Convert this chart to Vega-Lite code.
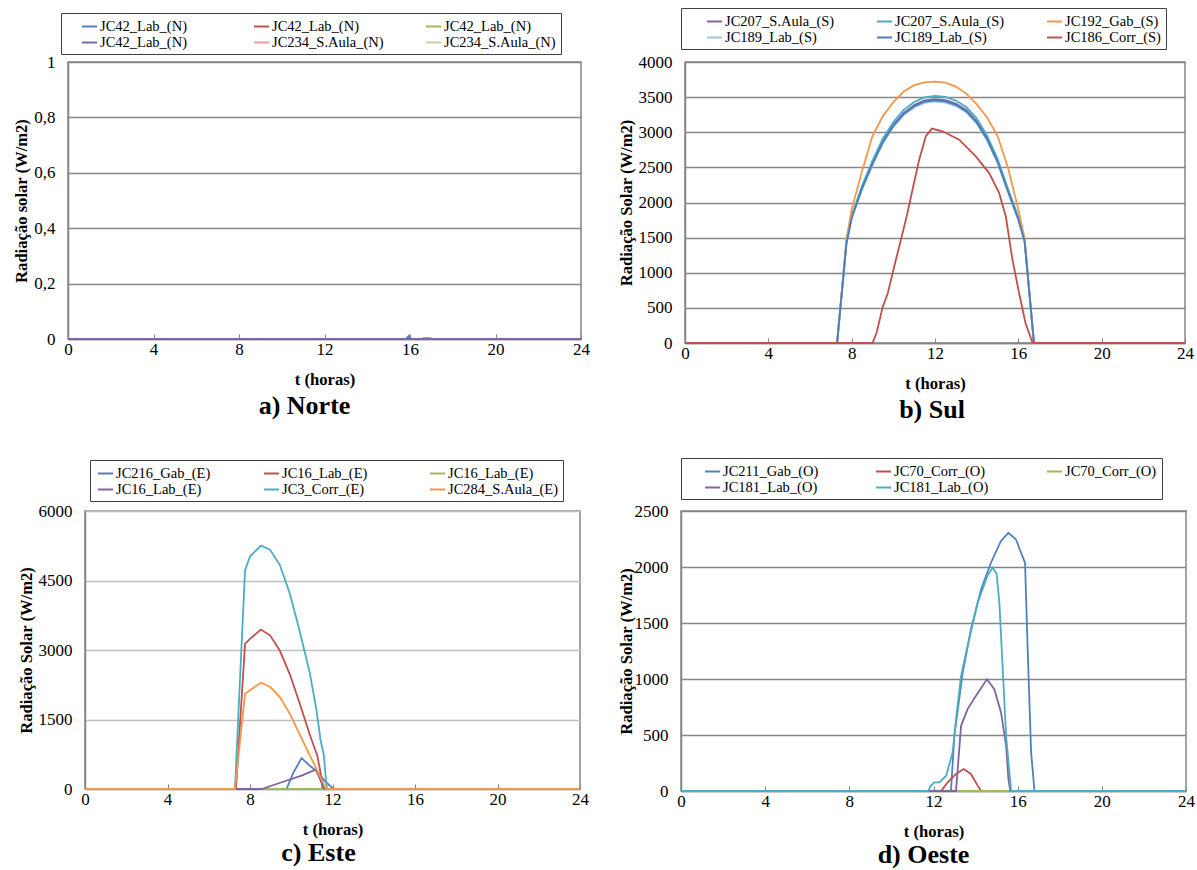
{
"$schema": "https://vega.github.io/schema/vega-lite/v6.json",
"background": "white",
"padding": {"left": 0, "top": 6, "right": 0, "bottom": 0},
"config": {
  "font": "Liberation Serif",
  "view": {"stroke": "#868686", "strokeWidth": 1.5},
  "axis": {"labelFont": "Liberation Serif", "titleFont": "Liberation Serif", "labelFontSize": 17, "titleFontSize": 16.6, "titleFontWeight": "bold", "labelColor": "#000", "titleColor": "#000", "domainColor": "#868686", "domainWidth": 1.5, "tickColor": "#868686", "gridColor": "#868686", "gridWidth": 1.3},
  "axisX": {"grid": false, "tickSize": -5, "labelPadding": 7, "titlePadding": 14, "labelFlush": false},
  "axisY": {"ticks": false, "tickSize": 0, "labelPadding": 13, "titlePadding": 4, "grid": true},
  "legend": {"orient": "none", "direction": "horizontal", "columns": 3, "labelFont": "Liberation Serif", "labelFontSize": 14.5, "labelColor": "#000", "symbolType": "stroke", "symbolSize": 225, "symbolStrokeWidth": 2, "labelOffset": 2, "strokeColor": "#404040", "padding": 5, "rowPadding": 1, "gridAlign": "all"},
  "title": {"font": "Liberation Serif", "fontSize": 26, "fontWeight": "bold", "orient": "bottom", "anchor": "middle", "color": "#000", "offset": 5, "frame": "group"}
},
"datasets": {
  "none": [],
  "na": [
    {"s": "JC42_Lab_(N)#1", "t": 0, "v": 0}, {"s": "JC42_Lab_(N)#1", "t": 15.8, "v": 0}, {"s": "JC42_Lab_(N)#1", "t": 15.95, "v": 0.012}, {"s": "JC42_Lab_(N)#1", "t": 16.05, "v": 0}, {"s": "JC42_Lab_(N)#1", "t": 24, "v": 0},
    {"s": "JC42_Lab_(N)#2", "t": 0, "v": 0}, {"s": "JC42_Lab_(N)#2", "t": 24, "v": 0},
    {"s": "JC42_Lab_(N)#3", "t": 0, "v": 0}, {"s": "JC42_Lab_(N)#3", "t": 16.5, "v": 0}, {"s": "JC42_Lab_(N)#3", "t": 16.65, "v": 0.004}, {"s": "JC42_Lab_(N)#3", "t": 16.95, "v": 0.004}, {"s": "JC42_Lab_(N)#3", "t": 17.05, "v": 0}, {"s": "JC42_Lab_(N)#3", "t": 24, "v": 0},
    {"s": "JC234_S.Aula_(N)#5", "t": 0, "v": 0}, {"s": "JC234_S.Aula_(N)#5", "t": 24, "v": 0},
    {"s": "JC234_S.Aula_(N)#6", "t": 0, "v": 0}, {"s": "JC234_S.Aula_(N)#6", "t": 24, "v": 0},
    {"s": "JC42_Lab_(N)#4", "t": 0, "v": 0}, {"s": "JC42_Lab_(N)#4", "t": 24, "v": 0}
  ],
  "sb": [
    {"s": "JC207_S.Aula_(S)#1", "t": 0, "v": 0}, {"s": "JC207_S.Aula_(S)#1", "t": 7.3, "v": 0}, {"s": "JC207_S.Aula_(S)#1", "t": 7.75, "v": 1427}, {"s": "JC207_S.Aula_(S)#1", "t": 8, "v": 1789}, {"s": "JC207_S.Aula_(S)#1", "t": 8.5, "v": 2211}, {"s": "JC207_S.Aula_(S)#1", "t": 9, "v": 2563}, {"s": "JC207_S.Aula_(S)#1", "t": 9.5, "v": 2874}, {"s": "JC207_S.Aula_(S)#1", "t": 10, "v": 3105}, {"s": "JC207_S.Aula_(S)#1", "t": 10.5, "v": 3276}, {"s": "JC207_S.Aula_(S)#1", "t": 11, "v": 3387}, {"s": "JC207_S.Aula_(S)#1", "t": 11.5, "v": 3452}, {"s": "JC207_S.Aula_(S)#1", "t": 12, "v": 3472}, {"s": "JC207_S.Aula_(S)#1", "t": 12.5, "v": 3457}, {"s": "JC207_S.Aula_(S)#1", "t": 13, "v": 3407}, {"s": "JC207_S.Aula_(S)#1", "t": 13.5, "v": 3317}, {"s": "JC207_S.Aula_(S)#1", "t": 14, "v": 3156}, {"s": "JC207_S.Aula_(S)#1", "t": 14.5, "v": 2915}, {"s": "JC207_S.Aula_(S)#1", "t": 15, "v": 2593}, {"s": "JC207_S.Aula_(S)#1", "t": 15.5, "v": 2171}, {"s": "JC207_S.Aula_(S)#1", "t": 16, "v": 1769}, {"s": "JC207_S.Aula_(S)#1", "t": 16.3, "v": 1457}, {"s": "JC207_S.Aula_(S)#1", "t": 16.75, "v": 0}, {"s": "JC207_S.Aula_(S)#1", "t": 24, "v": 0},
    {"s": "JC207_S.Aula_(S)#2", "t": 0, "v": 0}, {"s": "JC207_S.Aula_(S)#2", "t": 7.3, "v": 0}, {"s": "JC207_S.Aula_(S)#2", "t": 7.75, "v": 1446}, {"s": "JC207_S.Aula_(S)#2", "t": 8, "v": 1812}, {"s": "JC207_S.Aula_(S)#2", "t": 8.5, "v": 2240}, {"s": "JC207_S.Aula_(S)#2", "t": 9, "v": 2596}, {"s": "JC207_S.Aula_(S)#2", "t": 9.5, "v": 2911}, {"s": "JC207_S.Aula_(S)#2", "t": 10, "v": 3146}, {"s": "JC207_S.Aula_(S)#2", "t": 10.5, "v": 3319}, {"s": "JC207_S.Aula_(S)#2", "t": 11, "v": 3431}, {"s": "JC207_S.Aula_(S)#2", "t": 11.5, "v": 3497}, {"s": "JC207_S.Aula_(S)#2", "t": 12, "v": 3517}, {"s": "JC207_S.Aula_(S)#2", "t": 12.5, "v": 3502}, {"s": "JC207_S.Aula_(S)#2", "t": 13, "v": 3451}, {"s": "JC207_S.Aula_(S)#2", "t": 13.5, "v": 3359}, {"s": "JC207_S.Aula_(S)#2", "t": 14, "v": 3197}, {"s": "JC207_S.Aula_(S)#2", "t": 14.5, "v": 2952}, {"s": "JC207_S.Aula_(S)#2", "t": 15, "v": 2626}, {"s": "JC207_S.Aula_(S)#2", "t": 15.5, "v": 2199}, {"s": "JC207_S.Aula_(S)#2", "t": 16, "v": 1792}, {"s": "JC207_S.Aula_(S)#2", "t": 16.3, "v": 1476}, {"s": "JC207_S.Aula_(S)#2", "t": 16.75, "v": 0}, {"s": "JC207_S.Aula_(S)#2", "t": 24, "v": 0},
    {"s": "JC192_Gab_(S)", "t": 0, "v": 0}, {"s": "JC192_Gab_(S)", "t": 7.3, "v": 0}, {"s": "JC192_Gab_(S)", "t": 7.75, "v": 1480}, {"s": "JC192_Gab_(S)", "t": 8, "v": 1900}, {"s": "JC192_Gab_(S)", "t": 8.5, "v": 2450}, {"s": "JC192_Gab_(S)", "t": 9, "v": 2950}, {"s": "JC192_Gab_(S)", "t": 9.5, "v": 3230}, {"s": "JC192_Gab_(S)", "t": 10, "v": 3430}, {"s": "JC192_Gab_(S)", "t": 10.5, "v": 3580}, {"s": "JC192_Gab_(S)", "t": 11, "v": 3670}, {"s": "JC192_Gab_(S)", "t": 11.5, "v": 3710}, {"s": "JC192_Gab_(S)", "t": 12, "v": 3720}, {"s": "JC192_Gab_(S)", "t": 12.5, "v": 3705}, {"s": "JC192_Gab_(S)", "t": 13, "v": 3650}, {"s": "JC192_Gab_(S)", "t": 13.5, "v": 3550}, {"s": "JC192_Gab_(S)", "t": 14, "v": 3400}, {"s": "JC192_Gab_(S)", "t": 14.5, "v": 3210}, {"s": "JC192_Gab_(S)", "t": 15, "v": 2950}, {"s": "JC192_Gab_(S)", "t": 15.5, "v": 2500}, {"s": "JC192_Gab_(S)", "t": 16, "v": 1900}, {"s": "JC192_Gab_(S)", "t": 16.3, "v": 1490}, {"s": "JC192_Gab_(S)", "t": 16.75, "v": 0}, {"s": "JC192_Gab_(S)", "t": 24, "v": 0},
    {"s": "JC189_Lab_(S)#1", "t": 0, "v": 0}, {"s": "JC189_Lab_(S)#1", "t": 7.3, "v": 0}, {"s": "JC189_Lab_(S)#1", "t": 7.75, "v": 1413}, {"s": "JC189_Lab_(S)#1", "t": 8, "v": 1771}, {"s": "JC189_Lab_(S)#1", "t": 8.5, "v": 2189}, {"s": "JC189_Lab_(S)#1", "t": 9, "v": 2537}, {"s": "JC189_Lab_(S)#1", "t": 9.5, "v": 2846}, {"s": "JC189_Lab_(S)#1", "t": 10, "v": 3075}, {"s": "JC189_Lab_(S)#1", "t": 10.5, "v": 3244}, {"s": "JC189_Lab_(S)#1", "t": 11, "v": 3353}, {"s": "JC189_Lab_(S)#1", "t": 11.5, "v": 3418}, {"s": "JC189_Lab_(S)#1", "t": 12, "v": 3438}, {"s": "JC189_Lab_(S)#1", "t": 12.5, "v": 3423}, {"s": "JC189_Lab_(S)#1", "t": 13, "v": 3373}, {"s": "JC189_Lab_(S)#1", "t": 13.5, "v": 3284}, {"s": "JC189_Lab_(S)#1", "t": 14, "v": 3124}, {"s": "JC189_Lab_(S)#1", "t": 14.5, "v": 2886}, {"s": "JC189_Lab_(S)#1", "t": 15, "v": 2567}, {"s": "JC189_Lab_(S)#1", "t": 15.5, "v": 2149}, {"s": "JC189_Lab_(S)#1", "t": 16, "v": 1751}, {"s": "JC189_Lab_(S)#1", "t": 16.3, "v": 1443}, {"s": "JC189_Lab_(S)#1", "t": 16.75, "v": 0}, {"s": "JC189_Lab_(S)#1", "t": 24, "v": 0},
    {"s": "JC189_Lab_(S)#2", "t": 0, "v": 0}, {"s": "JC189_Lab_(S)#2", "t": 7.3, "v": 0}, {"s": "JC189_Lab_(S)#2", "t": 7.75, "v": 1420}, {"s": "JC189_Lab_(S)#2", "t": 8, "v": 1780}, {"s": "JC189_Lab_(S)#2", "t": 8.5, "v": 2200}, {"s": "JC189_Lab_(S)#2", "t": 9, "v": 2550}, {"s": "JC189_Lab_(S)#2", "t": 9.5, "v": 2860}, {"s": "JC189_Lab_(S)#2", "t": 10, "v": 3090}, {"s": "JC189_Lab_(S)#2", "t": 10.5, "v": 3260}, {"s": "JC189_Lab_(S)#2", "t": 11, "v": 3370}, {"s": "JC189_Lab_(S)#2", "t": 11.5, "v": 3435}, {"s": "JC189_Lab_(S)#2", "t": 12, "v": 3455}, {"s": "JC189_Lab_(S)#2", "t": 12.5, "v": 3440}, {"s": "JC189_Lab_(S)#2", "t": 13, "v": 3390}, {"s": "JC189_Lab_(S)#2", "t": 13.5, "v": 3300}, {"s": "JC189_Lab_(S)#2", "t": 14, "v": 3140}, {"s": "JC189_Lab_(S)#2", "t": 14.5, "v": 2900}, {"s": "JC189_Lab_(S)#2", "t": 15, "v": 2580}, {"s": "JC189_Lab_(S)#2", "t": 15.5, "v": 2160}, {"s": "JC189_Lab_(S)#2", "t": 16, "v": 1760}, {"s": "JC189_Lab_(S)#2", "t": 16.3, "v": 1450}, {"s": "JC189_Lab_(S)#2", "t": 16.75, "v": 0}, {"s": "JC189_Lab_(S)#2", "t": 24, "v": 0},
    {"s": "JC186_Corr_(S)", "t": 0, "v": 0}, {"s": "JC186_Corr_(S)", "t": 9.0, "v": 0}, {"s": "JC186_Corr_(S)", "t": 9.2, "v": 150}, {"s": "JC186_Corr_(S)", "t": 9.49, "v": 514}, {"s": "JC186_Corr_(S)", "t": 9.73, "v": 705}, {"s": "JC186_Corr_(S)", "t": 10.04, "v": 1086}, {"s": "JC186_Corr_(S)", "t": 10.28, "v": 1371}, {"s": "JC186_Corr_(S)", "t": 10.64, "v": 1800}, {"s": "JC186_Corr_(S)", "t": 10.92, "v": 2181}, {"s": "JC186_Corr_(S)", "t": 11.24, "v": 2610}, {"s": "JC186_Corr_(S)", "t": 11.56, "v": 2943}, {"s": "JC186_Corr_(S)", "t": 11.85, "v": 3052}, {"s": "JC186_Corr_(S)", "t": 12.36, "v": 3014}, {"s": "JC186_Corr_(S)", "t": 13.16, "v": 2895}, {"s": "JC186_Corr_(S)", "t": 13.96, "v": 2657}, {"s": "JC186_Corr_(S)", "t": 14.6, "v": 2419}, {"s": "JC186_Corr_(S)", "t": 15.08, "v": 2133}, {"s": "JC186_Corr_(S)", "t": 15.4, "v": 1800}, {"s": "JC186_Corr_(S)", "t": 15.72, "v": 1181}, {"s": "JC186_Corr_(S)", "t": 16.04, "v": 705}, {"s": "JC186_Corr_(S)", "t": 16.35, "v": 276}, {"s": "JC186_Corr_(S)", "t": 16.67, "v": 14}, {"s": "JC186_Corr_(S)", "t": 16.8, "v": 0}, {"s": "JC186_Corr_(S)", "t": 24, "v": 0}
  ],
  "ec": [
    {"s": "JC216_Gab_(E)", "t": 0, "v": 0}, {"s": "JC216_Gab_(E)", "t": 9.77, "v": 0}, {"s": "JC216_Gab_(E)", "t": 10.1, "v": 350}, {"s": "JC216_Gab_(E)", "t": 10.5, "v": 666}, {"s": "JC216_Gab_(E)", "t": 10.9, "v": 503}, {"s": "JC216_Gab_(E)", "t": 11.31, "v": 355}, {"s": "JC216_Gab_(E)", "t": 11.63, "v": 170}, {"s": "JC216_Gab_(E)", "t": 12.0, "v": 22}, {"s": "JC216_Gab_(E)", "t": 12.1, "v": 0}, {"s": "JC216_Gab_(E)", "t": 24, "v": 0},
    {"s": "JC16_Lab_(E)#1", "t": 0, "v": 0}, {"s": "JC16_Lab_(E)#1", "t": 7.32, "v": 0}, {"s": "JC16_Lab_(E)#1", "t": 7.76, "v": 3131}, {"s": "JC16_Lab_(E)#1", "t": 8, "v": 3242}, {"s": "JC16_Lab_(E)#1", "t": 8.53, "v": 3442}, {"s": "JC16_Lab_(E)#1", "t": 8.97, "v": 3316}, {"s": "JC16_Lab_(E)#1", "t": 9.45, "v": 2983}, {"s": "JC16_Lab_(E)#1", "t": 9.94, "v": 2465}, {"s": "JC16_Lab_(E)#1", "t": 10.42, "v": 1836}, {"s": "JC16_Lab_(E)#1", "t": 10.9, "v": 1170}, {"s": "JC16_Lab_(E)#1", "t": 11.26, "v": 725}, {"s": "JC16_Lab_(E)#1", "t": 11.42, "v": 355}, {"s": "JC16_Lab_(E)#1", "t": 11.52, "v": 0}, {"s": "JC16_Lab_(E)#1", "t": 24, "v": 0},
    {"s": "JC16_Lab_(E)#2", "t": 0, "v": 0}, {"s": "JC16_Lab_(E)#2", "t": 24, "v": 0},
    {"s": "JC16_Lab_(E)#3", "t": 0, "v": 0}, {"s": "JC16_Lab_(E)#3", "t": 8.56, "v": 0}, {"s": "JC16_Lab_(E)#3", "t": 9.5, "v": 140}, {"s": "JC16_Lab_(E)#3", "t": 10.5, "v": 290}, {"s": "JC16_Lab_(E)#3", "t": 11.2, "v": 420}, {"s": "JC16_Lab_(E)#3", "t": 11.6, "v": 0}, {"s": "JC16_Lab_(E)#3", "t": 24, "v": 0},
    {"s": "JC3_Corr_(E)", "t": 0, "v": 0}, {"s": "JC3_Corr_(E)", "t": 7.27, "v": 0}, {"s": "JC3_Corr_(E)", "t": 7.76, "v": 4722}, {"s": "JC3_Corr_(E)", "t": 8, "v": 5019}, {"s": "JC3_Corr_(E)", "t": 8.53, "v": 5255}, {"s": "JC3_Corr_(E)", "t": 8.97, "v": 5166}, {"s": "JC3_Corr_(E)", "t": 9.45, "v": 4833}, {"s": "JC3_Corr_(E)", "t": 9.94, "v": 4204}, {"s": "JC3_Corr_(E)", "t": 10.42, "v": 3390}, {"s": "JC3_Corr_(E)", "t": 10.9, "v": 2502}, {"s": "JC3_Corr_(E)", "t": 11.23, "v": 1688}, {"s": "JC3_Corr_(E)", "t": 11.42, "v": 1058}, {"s": "JC3_Corr_(E)", "t": 11.58, "v": 725}, {"s": "JC3_Corr_(E)", "t": 11.68, "v": 207}, {"s": "JC3_Corr_(E)", "t": 11.73, "v": 0}, {"s": "JC3_Corr_(E)", "t": 24, "v": 0},
    {"s": "JC284_S.Aula_(E)", "t": 0, "v": 0}, {"s": "JC284_S.Aula_(E)", "t": 7.27, "v": 0}, {"s": "JC284_S.Aula_(E)", "t": 7.76, "v": 2058}, {"s": "JC284_S.Aula_(E)", "t": 8, "v": 2132}, {"s": "JC284_S.Aula_(E)", "t": 8.53, "v": 2295}, {"s": "JC284_S.Aula_(E)", "t": 8.97, "v": 2206}, {"s": "JC284_S.Aula_(E)", "t": 9.45, "v": 1984}, {"s": "JC284_S.Aula_(E)", "t": 9.94, "v": 1614}, {"s": "JC284_S.Aula_(E)", "t": 10.42, "v": 1170}, {"s": "JC284_S.Aula_(E)", "t": 10.9, "v": 725}, {"s": "JC284_S.Aula_(E)", "t": 11.31, "v": 355}, {"s": "JC284_S.Aula_(E)", "t": 11.55, "v": 133}, {"s": "JC284_S.Aula_(E)", "t": 11.68, "v": 0}, {"s": "JC284_S.Aula_(E)", "t": 24, "v": 0}
  ],
  "od": [
    {"s": "JC211_Gab_(O)", "t": 0, "v": 0}, {"s": "JC211_Gab_(O)", "t": 12.83, "v": 0}, {"s": "JC211_Gab_(O)", "t": 12.99, "v": 493}, {"s": "JC211_Gab_(O)", "t": 13.39, "v": 1058}, {"s": "JC211_Gab_(O)", "t": 13.78, "v": 1444}, {"s": "JC211_Gab_(O)", "t": 14.26, "v": 1800}, {"s": "JC211_Gab_(O)", "t": 14.73, "v": 2038}, {"s": "JC211_Gab_(O)", "t": 15.2, "v": 2231}, {"s": "JC211_Gab_(O)", "t": 15.56, "v": 2305}, {"s": "JC211_Gab_(O)", "t": 15.92, "v": 2246}, {"s": "JC211_Gab_(O)", "t": 16.16, "v": 2127}, {"s": "JC211_Gab_(O)", "t": 16.35, "v": 2038}, {"s": "JC211_Gab_(O)", "t": 16.48, "v": 1236}, {"s": "JC211_Gab_(O)", "t": 16.64, "v": 345}, {"s": "JC211_Gab_(O)", "t": 16.8, "v": 0}, {"s": "JC211_Gab_(O)", "t": 24, "v": 0},
    {"s": "JC70_Corr_(O)#1", "t": 0, "v": 0}, {"s": "JC70_Corr_(O)#1", "t": 12.36, "v": 0}, {"s": "JC70_Corr_(O)#1", "t": 12.67, "v": 77}, {"s": "JC70_Corr_(O)#1", "t": 13.07, "v": 152}, {"s": "JC70_Corr_(O)#1", "t": 13.43, "v": 196}, {"s": "JC70_Corr_(O)#1", "t": 13.78, "v": 152}, {"s": "JC70_Corr_(O)#1", "t": 14.1, "v": 48}, {"s": "JC70_Corr_(O)#1", "t": 14.26, "v": 0}, {"s": "JC70_Corr_(O)#1", "t": 24, "v": 0},
    {"s": "JC70_Corr_(O)#2", "t": 0, "v": 0}, {"s": "JC70_Corr_(O)#2", "t": 24, "v": 0},
    {"s": "JC181_Lab_(O)#1", "t": 0, "v": 0}, {"s": "JC181_Lab_(O)#1", "t": 13.07, "v": 0}, {"s": "JC181_Lab_(O)#1", "t": 13.31, "v": 582}, {"s": "JC181_Lab_(O)#1", "t": 13.62, "v": 731}, {"s": "JC181_Lab_(O)#1", "t": 14.02, "v": 850}, {"s": "JC181_Lab_(O)#1", "t": 14.54, "v": 998}, {"s": "JC181_Lab_(O)#1", "t": 14.89, "v": 909}, {"s": "JC181_Lab_(O)#1", "t": 15.21, "v": 701}, {"s": "JC181_Lab_(O)#1", "t": 15.45, "v": 404}, {"s": "JC181_Lab_(O)#1", "t": 15.56, "v": 107}, {"s": "JC181_Lab_(O)#1", "t": 15.65, "v": 0}, {"s": "JC181_Lab_(O)#1", "t": 24, "v": 0},
    {"s": "JC181_Lab_(O)#2", "t": 0, "v": 0}, {"s": "JC181_Lab_(O)#2", "t": 11.75, "v": 0}, {"s": "JC181_Lab_(O)#2", "t": 11.88, "v": 48}, {"s": "JC181_Lab_(O)#2", "t": 12.04, "v": 77}, {"s": "JC181_Lab_(O)#2", "t": 12.28, "v": 77}, {"s": "JC181_Lab_(O)#2", "t": 12.6, "v": 137}, {"s": "JC181_Lab_(O)#2", "t": 12.91, "v": 345}, {"s": "JC181_Lab_(O)#2", "t": 13.07, "v": 642}, {"s": "JC181_Lab_(O)#2", "t": 13.31, "v": 1028}, {"s": "JC181_Lab_(O)#2", "t": 13.62, "v": 1295}, {"s": "JC181_Lab_(O)#2", "t": 14.1, "v": 1682}, {"s": "JC181_Lab_(O)#2", "t": 14.58, "v": 1930}, {"s": "JC181_Lab_(O)#2", "t": 14.82, "v": 1995}, {"s": "JC181_Lab_(O)#2", "t": 15.0, "v": 1940}, {"s": "JC181_Lab_(O)#2", "t": 15.13, "v": 1682}, {"s": "JC181_Lab_(O)#2", "t": 15.29, "v": 1087}, {"s": "JC181_Lab_(O)#2", "t": 15.45, "v": 493}, {"s": "JC181_Lab_(O)#2", "t": 15.69, "v": 0}, {"s": "JC181_Lab_(O)#2", "t": 24, "v": 0}
  ]
},
"resolve": {"scale": {"color": "independent", "x": "independent", "y": "independent"}, "legend": {"color": "independent"}},
"spacing": 32,
"vconcat": [
  {
    "resolve": {"scale": {"color": "independent", "x": "independent", "y": "independent"}, "legend": {"color": "independent"}},
    "spacing": 12,
    "hconcat": [
      {"data": {"name": "none"}, "width": 1, "height": 1, "view": {"stroke": null}, "mark": "point", "encoding": {}},
      {
        "resolve": {"scale": {"color": "independent", "x": "independent", "y": "independent"}, "legend": {"color": "independent"}},
        "spacing": 26,
        "hconcat": [
          {
            "data": {"name": "na"},
            "width": 513, "height": 277,
            "title": {"text": "a) Norte", "dx": -20},
            "mark": {"type": "line", "strokeWidth": 1.8},
            "encoding": {
              "x": {"field": "t", "type": "quantitative", "scale": {"domain": [0, 24], "nice": false, "zero": false}, "axis": {"values": [0, 4, 8, 12, 16, 20, 24], "title": "t (horas)"}},
              "y": {"field": "v", "type": "quantitative", "scale": {"domain": [0, 1], "nice": false}, "axis": {"values": [0, 0.2, 0.4, 0.6, 0.8, 1], "title": "Radiação solar (W/m2)", "labelExpr": "replace(format(datum.value, '.1~f'), '.', ',')"}},
              "color": {"field": "s", "type": "nominal", "scale": {"domain": ["JC42_Lab_(N)#1", "JC42_Lab_(N)#2", "JC42_Lab_(N)#3", "JC42_Lab_(N)#4", "JC234_S.Aula_(N)#5", "JC234_S.Aula_(N)#6"], "range": ["#4F81BD", "#C0504D", "#9BBB59", "#8064A2", "#E6A09E", "#C3D69B"]}, "legend": {"title": null, "legendX": -7, "legendY": -49, "symbolOffset": 15, "columnPadding": 26, "labelExpr": "split(datum.label, '#')[0]"}}
            }
          },
          {
            "data": {"name": "sb"},
            "width": 500, "height": 281,
            "title": {"text": "b) Sul", "dx": -3},
            "mark": {"type": "line", "strokeWidth": 1.8},
            "encoding": {
              "x": {"field": "t", "type": "quantitative", "scale": {"domain": [0, 24], "nice": false, "zero": false}, "axis": {"values": [0, 4, 8, 12, 16, 20, 24], "title": "t (horas)"}},
              "y": {"field": "v", "type": "quantitative", "scale": {"domain": [0, 4000], "nice": false}, "axis": {"values": [0, 500, 1000, 1500, 2000, 2500, 3000, 3500, 4000], "format": "d", "title": "Radiação Solar (W/m2)"}},
              "color": {"field": "s", "type": "nominal", "scale": {"domain": ["JC207_S.Aula_(S)#1", "JC207_S.Aula_(S)#2", "JC192_Gab_(S)", "JC189_Lab_(S)#1", "JC189_Lab_(S)#2", "JC186_Corr_(S)"], "range": ["#8064A2", "#4BACC6", "#F79646", "#A7C0DE", "#4A7EBB", "#C0504D"]}, "legend": {"title": null, "legendX": -4, "legendY": -54, "symbolOffset": 20, "columnPadding": 21, "labelExpr": "split(datum.label, '#')[0]"}}
            }
          }
        ]
      }
    ]
  },
  {
    "resolve": {"scale": {"color": "independent", "x": "independent", "y": "independent"}, "legend": {"color": "independent"}},
    "spacing": 16,
    "hconcat": [
      {"data": {"name": "none"}, "width": 1, "height": 1, "view": {"stroke": null}, "mark": "point", "encoding": {}},
      {
        "resolve": {"scale": {"color": "independent", "x": "independent", "y": "independent"}, "legend": {"color": "independent"}},
        "spacing": 27,
        "hconcat": [
          {
            "data": {"name": "ec"},
            "width": 495, "height": 278,
            "title": {"text": "c) Este", "dx": -14, "offset": 2},
            "mark": {"type": "line", "strokeWidth": 1.8},
            "encoding": {
              "x": {"field": "t", "type": "quantitative", "scale": {"domain": [0, 24], "nice": false, "zero": false}, "axis": {"values": [0, 4, 8, 12, 16, 20, 24], "title": "t (horas)"}},
              "y": {"field": "v", "type": "quantitative", "scale": {"domain": [0, 6000], "nice": false}, "axis": {"values": [0, 1500, 3000, 4500, 6000], "format": "d", "title": "Radiação Solar (W/m2)", "gridColor": "#BFBFBF"}},
              "color": {"field": "s", "type": "nominal", "scale": {"domain": ["JC216_Gab_(E)", "JC16_Lab_(E)#1", "JC16_Lab_(E)#2", "JC16_Lab_(E)#3", "JC3_Corr_(E)", "JC284_S.Aula_(E)"], "range": ["#4F81BD", "#C0504D", "#9BBB59", "#8064A2", "#4BACC6", "#F79646"]}, "legend": {"title": null, "legendX": 5, "legendY": -51, "symbolOffset": 2, "columnPadding": 34, "labelExpr": "split(datum.label, '#')[0]"}}
            }
          },
          {
            "data": {"name": "od"},
            "width": 505, "height": 280,
            "title": {"text": "d) Oeste", "dx": -10, "offset": 2},
            "mark": {"type": "line", "strokeWidth": 1.8},
            "encoding": {
              "x": {"field": "t", "type": "quantitative", "scale": {"domain": [0, 24], "nice": false, "zero": false}, "axis": {"values": [0, 4, 8, 12, 16, 20, 24], "title": "t (horas)"}},
              "y": {"field": "v", "type": "quantitative", "scale": {"domain": [0, 2500], "nice": false}, "axis": {"values": [0, 500, 1000, 1500, 2000, 2500], "format": "d", "title": "Radiação Solar (W/m2)", "titlePadding": 0}},
              "color": {"field": "s", "type": "nominal", "scale": {"domain": ["JC211_Gab_(O)", "JC70_Corr_(O)#1", "JC70_Corr_(O)#2", "JC181_Lab_(O)#1", "JC181_Lab_(O)#2"], "range": ["#4F81BD", "#C0504D", "#9BBB59", "#8064A2", "#4BACC6"]}, "legend": {"title": null, "legendX": 0, "legendY": -53, "symbolOffset": 18, "columnPadding": 38, "labelExpr": "split(datum.label, '#')[0]"}}
            }
          }
        ]
      }
    ]
  }
]
}
